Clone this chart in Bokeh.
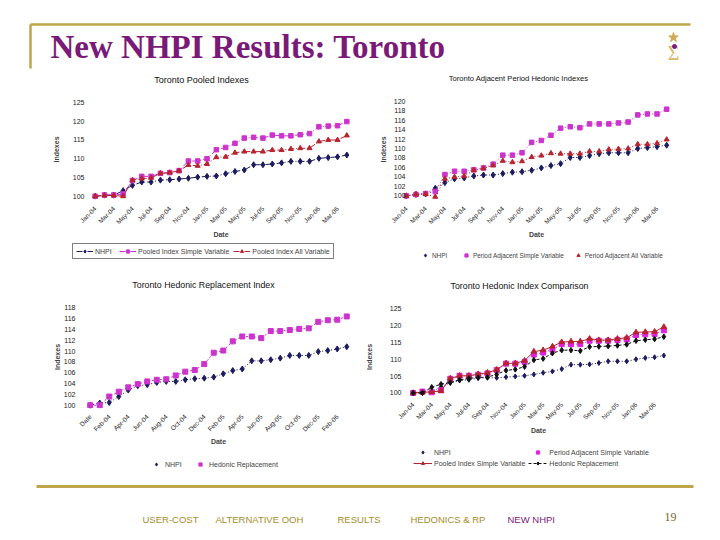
import math
from bokeh.plotting import figure
from bokeh.models import Range1d, FixedTicker, Legend, LegendItem
from bokeh.layouts import column, row
from bokeh.embed import file_html
from bokeh.resources import INLINE
from bokeh.core.properties import value

# ---------------- data ----------------
months = ["Jan-04", "Feb-04", "Mar-04", "Apr-04", "May-04", "Jun-04", "Jul-04", "Aug-04",
          "Sep-04", "Oct-04", "Nov-04", "Dec-04", "Jan-05", "Feb-05", "Mar-05", "Apr-05",
          "May-05", "Jun-05", "Jul-05", "Aug-05", "Sep-05", "Oct-05", "Nov-05", "Dec-05",
          "Jan-06", "Feb-06", "Mar-06", "Apr-06"]
hedonic_dates = ["Date"] + months[:27]

chart_titles = ["Toronto Pooled Indexes", "Toronto Adjacent Period Hedonic Indexes",
                "Toronto Hedonic Replacement Index", "Toronto Hedonic Index Comparison"]

# Chart 1: Toronto Pooled Indexes
c1_nhpi = [100.0, 100.3, 100.3, 101.5, 102.9, 103.8, 103.8, 104.3, 104.4, 104.6, 104.8, 105.1, 105.3, 105.4,
           106.0, 106.6, 107.0, 108.4, 108.4, 108.6, 108.9, 109.3, 109.3, 109.3, 110.1, 110.3, 110.5, 111.0]
c1_pooled_simple = [100.0, 100.35, 100.35, 100.6, 104.2, 105.3, 105.3, 106.1, 106.3, 106.8, 109.4, 109.4, 110.0, 112.4,
                    113.0, 114.1, 115.5, 115.7, 115.5, 116.3, 116.1, 116.1, 116.4, 116.7, 118.5, 118.7, 118.8, 119.9]
c1_pooled_all = [100.0, 100.2, 100.2, 100.0, 104.3, 104.7, 104.9, 106.1, 106.3, 106.8, 108.3, 108.1, 108.6, 110.4,
                 110.5, 111.6, 111.9, 111.9, 111.9, 112.3, 112.3, 112.6, 112.8, 112.8, 114.6, 115.0, 115.0, 116.2]

# Chart 2: Toronto Adjacent Period Hedonic Indexes
c2_nhpi = [100.0, 100.3, 100.4, 101.6, 102.8, 103.6, 103.8, 104.2, 104.4, 104.4, 104.7, 105.0, 105.1, 105.4,
           105.9, 106.4, 106.8, 108.1, 108.1, 108.5, 108.9, 109.1, 109.1, 109.1, 110.0, 110.2, 110.4, 110.7]
c2_adj_simple = [100.0, 100.3, 100.5, 100.9, 104.5, 105.2, 105.2, 105.5, 105.9, 106.7, 108.6, 108.6, 109.1, 111.3,
                 111.7, 112.8, 114.3, 114.6, 114.4, 115.2, 115.2, 115.2, 115.4, 115.6, 117.1, 117.3, 117.3, 118.3]
c2_adj_all = [100.0, 100.3, 100.4, 99.8, 103.6, 104.0, 104.2, 105.4, 105.8, 106.4, 107.4, 107.1, 107.3, 108.2,
              108.5, 109.0, 108.9, 108.9, 108.9, 109.4, 109.4, 109.8, 109.9, 110.0, 110.9, 110.9, 111.1, 111.9]

# Chart 3: Toronto Hedonic Replacement Index
c3_nhpi = [100.0, 100.4, 100.5, 101.6, 102.8, 103.6, 103.8, 104.2, 104.4, 104.4, 104.7, 104.9, 105.0, 105.2,
           105.8, 106.4, 106.7, 108.2, 108.2, 108.4, 108.7, 109.2, 109.2, 109.2, 109.9, 110.1, 110.4, 110.8]
c3_replacement = [100.0, 100.0, 101.6, 102.5, 103.3, 103.9, 104.4, 104.7, 104.8, 105.5, 106.2, 106.5, 107.6, 109.7,
                  110.1, 111.8, 112.7, 112.7, 112.4, 113.7, 113.7, 113.9, 114.1, 114.2, 115.4, 115.7, 115.8, 116.4]

# Chart 4: Toronto Hedonic Index Comparison
c4_nhpi = [100.0, 100.2, 100.4, 101.8, 103.0, 103.7, 103.9, 104.4, 104.5, 104.5, 104.7, 104.9, 105.1, 105.5,
           106.0, 106.4, 107.1, 108.4, 108.4, 108.5, 108.9, 109.4, 109.4, 109.4, 110.0, 110.4, 110.6, 111.1]
c4_adj_simple = [100.0, 100.4, 100.2, 100.8, 104.2, 105.1, 105.1, 105.4, 105.8, 106.8, 108.7, 108.7, 109.2, 111.4,
                 112.0, 112.9, 114.5, 114.5, 114.5, 115.5, 115.5, 115.5, 115.7, 115.9, 117.2, 117.4, 117.5, 118.6]
c4_pooled_simple = [100.0, 100.2, 100.3, 100.6, 104.3, 105.1, 105.1, 105.6, 106.0, 106.9, 108.8, 108.8, 109.6, 112.3,
                    112.7, 113.8, 115.1, 115.3, 115.3, 116.1, 115.7, 115.7, 116.1, 116.4, 118.0, 118.1, 118.2, 119.6]
c4_replacement = [100.0, 100.0, 101.7, 102.6, 103.1, 103.9, 104.3, 104.6, 104.7, 105.5, 106.7, 107.0, 107.8, 109.8,
                  110.2, 111.8, 112.7, 112.7, 112.5, 113.7, 113.8, 113.9, 114.1, 114.4, 115.5, 115.8, 116.0, 116.7]

yticks_5 = [100, 105, 110, 115, 120, 125]
yticks_2_120 = [100, 102, 104, 106, 108, 110, 112, 114, 116, 118, 120]
yticks_2_118 = [100, 102, 104, 106, 108, 110, 112, 114, 116, 118]

# ---------------- styles ----------------
FONT = "Liberation Sans"
NAVY = "#1B1B5E"
PINK = "#CC33CC"
RED = "#B8232F"
MAG = "#DD22DD"
BLACK = "#111111"
GOLD = "#BFA64A"
GOLDTXT = "#A58E2C"
PURPLE = "#7A1A78"
DASHDOT = "6 2 1 2"
DOT = "1 2"


def plain(f):
    f.axis.visible = False
    f.grid.visible = False
    f.outline_line_color = None
    f.background_fill_color = "white"
    f.border_fill_color = "white"


def strip_fig(y0, y1):
    f = figure(width=704, height=y1 - y0, x_range=Range1d(0, 704), y_range=Range1d(y1, y0),
               min_border=0, output_backend="svg", toolbar_location=None)
    plain(f)
    return f


def build(ox, oy, W, H, xlabels, first_px, last_px, vlo, vhi, py_lo, py_hi, ftop, fbot,
          yticks, ystand, ylab_stand, xstand):
    n = len(xlabels)
    s = (last_px - first_px) / (n - 1)
    fl = first_px - 0.5 * s
    fw = n * s
    unit = (py_lo - py_hi) / (vhi - vlo)
    L = int(round(fl - ox))
    FW = int(round(fw))
    T = ftop - oy
    FH = fbot - ftop
    y0 = vlo - (fbot - py_lo) / unit
    y1 = vhi + (py_hi - ftop) / unit
    p = figure(width=W, height=H, x_range=Range1d(-0.5, n - 0.5), y_range=Range1d(y0, y1),
               min_border_left=L, min_border_top=T, min_border_right=W - L - FW,
               min_border_bottom=H - T - FH, output_backend="svg", toolbar_location=None)
    p.outline_line_color = None
    p.grid.visible = False
    p.background_fill_color = "white"
    p.border_fill_color = "white"
    ya = p.yaxis[0]
    ya.ticker = FixedTicker(ticks=yticks)
    ya.axis_line_color = None
    ya.major_tick_line_color = None
    ya.minor_tick_line_color = None
    ya.major_label_text_font = FONT
    ya.major_label_text_font_size = "7px"
    ya.major_label_text_color = "#222222"
    ya.major_label_standoff = ystand
    ya.axis_label = "Indexes"
    ya.axis_label_text_font = FONT
    ya.axis_label_text_font_size = "7px"
    ya.axis_label_text_font_style = "bold"
    ya.axis_label_standoff = ylab_stand
    xa = p.xaxis[0]
    ticks = list(range(0, n, 2))
    xa.ticker = FixedTicker(ticks=ticks)
    xa.major_label_overrides = {i: xlabels[i] for i in ticks}
    xa.major_label_orientation = math.pi / 4
    xa.axis_line_color = None
    xa.major_tick_line_color = None
    xa.minor_tick_line_color = None
    xa.major_label_text_font = FONT
    xa.major_label_text_font_size = "6.5px"
    xa.major_label_text_color = "#222222"
    xa.major_label_standoff = xstand
    xa.axis_label = "Date"
    xa.axis_label_text_font = FONT
    xa.axis_label_text_font_size = "7px"
    xa.axis_label_text_font_style = "bold"
    xa.axis_label_standoff = 0
    return p


def series(p, x, y, color, marker, size, dash, width=1.0):
    p.line(x, y, line_color=color, line_width=width, line_dash=dash)
    p.scatter(x, y, marker=marker, size=size, fill_color=color, line_color=color)


def key(f, color, marker, size, dash=None):
    """Off-screen renderers in a strip figure, used only as legend swatches."""
    rs = []
    if dash is not None:
        rs.append(f.line(x=[-60, -50], y=[-60, -60], line_color=color, line_width=1,
                         line_dash=dash))
    rs.append(f.scatter(x=[-60], y=[-60], marker=marker, size=size, fill_color=color,
                        line_color=color))
    return rs


def legend(f, items, left, bottom_from_strip_bottom, border=False, ncols=None, gw=17,
           standoff=2, spacing=4, padding=2, fsize="7px"):
    lg = Legend(items=items, orientation="horizontal",
                location=(left, bottom_from_strip_bottom))
    if ncols:
        lg.ncols = ncols
    lg.label_text_font = FONT
    lg.label_text_font_size = fsize
    lg.label_height = 8
    lg.glyph_height = 8
    lg.glyph_width = gw
    lg.label_standoff = standoff
    lg.spacing = spacing
    lg.padding = padding
    lg.margin = 0
    lg.background_fill_alpha = 0
    lg.border_line_color = "black" if border else None
    lg.border_line_width = 1
    f.add_layout(lg, "center")


# ---------------- charts ----------------
x1 = list(range(len(months)))
x3 = list(range(len(hedonic_dates)))

# top row: shared frame from y=99 to y=201
p1 = build(0, 90, 360, 150, months, 95, 347, 100, 125, 197.7, 102, 99, 201,
           yticks_5, 0, 10, 2)
series(p1, x1, c1_nhpi, NAVY, "diamond", 6, DASHDOT)
series(p1, x1, c1_pooled_simple, PINK, "square", 4.5, DASHDOT)
series(p1, x1, c1_pooled_all, RED, "triangle", 5, DASHDOT)

p2 = build(360, 90, 344, 150, months, 405.7, 665.7, 100, 120, 197.3, 100.7, 99, 201,
           yticks_2_120, -10, 4, 2)
series(p2, x1, c2_nhpi, NAVY, "diamond", 6, DOT)
series(p2, x1, c2_adj_simple, PINK, "square", 4.5, DOT)
series(p2, x1, c2_adj_all, RED, "triangle", 5, DOT)

# bottom row: shared frame from y=305 to y=409
p3 = build(0, 295, 360, 153, hedonic_dates, 89.3, 346, 100, 118, 405.7, 307.3, 305, 409,
           yticks_2_118, 4, 0, 1)
series(p3, x3, c3_nhpi, NAVY, "diamond", 6, DOT)
series(p3, x3, c3_replacement, PINK, "square", 5, "2 2")

p4 = build(360, 295, 344, 153, months, 412.3, 663.3, 100, 125, 393.3, 308.3, 305, 409,
           yticks_5, 1, 14, -11)
series(p4, x1, c4_nhpi, NAVY, "diamond", 5, DOT)
series(p4, x1, c4_adj_simple, MAG, "square", 5, DOT)
series(p4, x1, c4_pooled_simple, RED, "triangle", 5.5, "solid")
series(p4, x1, c4_replacement, BLACK, "diamond", 5.5, "3 2")

# ---------------- header (slide title + top chart titles) ----------------
hdr = strip_fig(0, 90)
hdr.segment(x0=[30, 30], y0=[24, 24], x1=[690, 30], y1=[24, 68], line_color=GOLD, line_width=2.5)
hdr.text(x=[50], y=[46], text=["New NHPI Results: Toronto"], text_font=value("Liberation Serif"),
         text_font_style="bold", text_font_size="33px", text_color=PURPLE,
         text_baseline="middle", text_align="left")
hdr.text(x=[673], y=[52], text=["\u03a3"], text_font=value("Liberation Serif"),
         text_font_size="20px", text_color="#D8B868", text_baseline="middle", text_align="center")
hdr.scatter(x=[673], y=[37], marker="star", size=10, fill_color="#D0AA55", line_color="#D0AA55")
hdr.scatter(x=[674], y=[46], marker="circle", size=4, fill_color=PURPLE, line_color=PURPLE)
hdr.text(x=[201, 518], y=[79, 78], text=chart_titles[:2], text_font=value(FONT),
         text_font_size=["9px", "7.6px"], text_color="#111111", text_baseline="middle",
         text_align="center")

# ---------------- middle strip: legends of top charts + titles of bottom charts ----------------
mid = strip_fig(240, 295)
legend(mid, [LegendItem(label="NHPI", renderers=key(mid, NAVY, "diamond", 6, DASHDOT)),
             LegendItem(label="Pooled Index Simple Variable",
                        renderers=key(mid, PINK, "square", 4.5, DASHDOT)),
             LegendItem(label="Pooled Index All Variable",
                        renderers=key(mid, RED, "triangle", 5, DASHDOT))],
       72, 36, border=True, gw=17, standoff=2, spacing=4, padding=3)
legend(mid, [LegendItem(label="NHPI", renderers=key(mid, NAVY, "diamond", 6)),
             LegendItem(label="Period Adjacent Simple Variable",
                        renderers=key(mid, PINK, "square", 4.5)),
             LegendItem(label="Period Adjacent All Variable",
                        renderers=key(mid, RED, "triangle", 5))],
       421, 36, gw=8, standoff=3, spacing=10, padding=2, fsize="6.4px")
mid.text(x=[203, 519], y=[284, 285], text=chart_titles[2:], text_font=value(FONT),
         text_font_size="8.8px", text_color="#111111", text_baseline="middle",
         text_align="center")

# ---------------- footer: legends of bottom charts + navigation ----------------
ftr = strip_fig(448, 524)
legend(ftr, [LegendItem(label="NHPI", renderers=key(ftr, NAVY, "diamond", 6)),
             LegendItem(label="Hedonic Replacement", renderers=key(ftr, PINK, "square", 5))],
       152, 56, gw=8, standoff=5, spacing=11, padding=2)
legend(ftr, [LegendItem(label="NHPI", renderers=key(ftr, NAVY, "diamond", 5)),
             LegendItem(label="Period Adjacent Simple Variable",
                        renderers=key(ftr, MAG, "square", 5)),
             LegendItem(label="Pooled Index Simple Variable",
                        renderers=key(ftr, RED, "triangle", 5.5, "solid")),
             LegendItem(label="Hedonic Replacement",
                        renderers=key(ftr, BLACK, "diamond", 5.5, "3 2"))],
       413, 57, ncols=2, gw=19, standoff=2, spacing=3, padding=0)
ftr.segment(x0=[36], y0=[486], x1=[693], y1=[486], line_color=GOLD, line_width=3)
ftr.text(x=[142, 215, 337, 410], y=[519] * 4,
         text=["USER-COST", "ALTERNATIVE OOH", "RESULTS", "HEDONICS & RP"],
         text_font=value(FONT), text_font_size="9.5px", text_color=GOLDTXT,
         text_baseline="middle", text_align="left")
ftr.text(x=[507], y=[519], text=["NEW NHPI"], text_font=value(FONT), text_font_size="9.5px",
         text_color=PURPLE, text_baseline="middle", text_align="left")
ftr.text(x=[670], y=[516], text=["19"], text_font=value("Liberation Serif"),
         text_font_size="12px", text_color="#7D6A26", text_baseline="middle", text_align="center")

layout = column(hdr, row(p1, p2, spacing=0), mid, row(p3, p4, spacing=0), ftr, spacing=0)
open("out.html", "w").write(file_html(layout, INLINE))
